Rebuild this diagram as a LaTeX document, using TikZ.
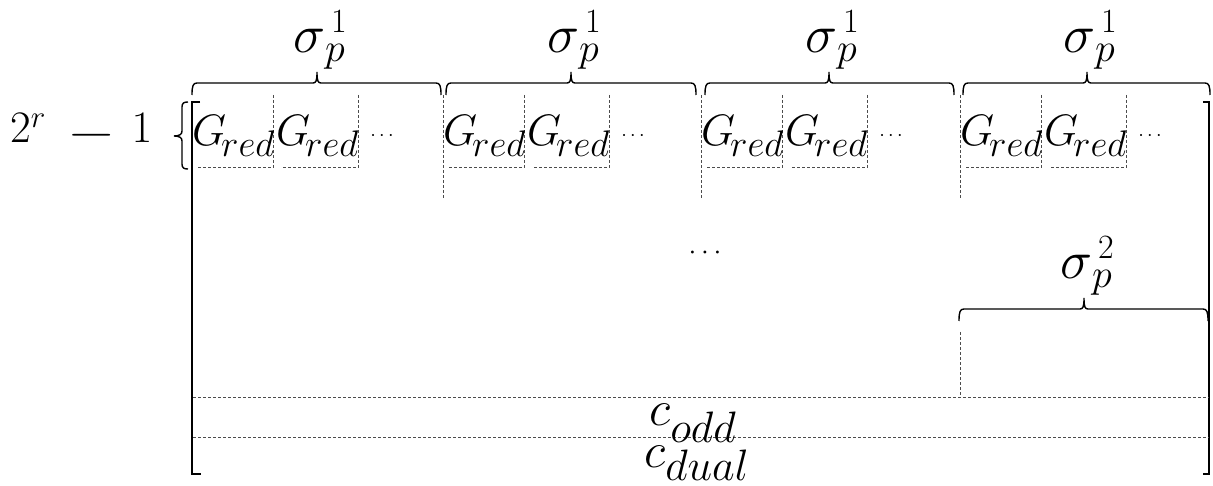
\RequirePackage{fix-cm}
\documentclass[tikz,border=0pt]{standalone}
\usepackage{graphicx}
\newcommand{\hbr}[4]{%
\draw[solidln] (#1,#4+12) .. controls (#1,#4+3) and (#1+1,#4) .. (#1+5,#4) -- (#3-4,#4) .. controls (#3-1,#4) and (#3,#4-2) .. (#3,#4-11) .. controls (#3,#4-2) and (#3+1,#4) .. (#3+4,#4) -- (#2-5,#4) .. controls (#2-1,#4) and (#2,#4+3) .. (#2,#4+12);}
\newcommand{\lsub}[3]{\raisebox{#1}{\fontsize{#2}{#2}\selectfont$#3$}}
\newcommand{\Gred}{$G$\kern-5pt\lsub{-11pt}{37}{red}}
\newcommand{\sigp}[1]{$\sigma$\rlap{\lsub{-9pt}{40}{p}}\hspace{6pt}\lsub{20pt}{34}{#1}}
\tikzset{
  x=1pt,y=-1pt,
  solidln/.style={line width=1.4pt,black},
  dashln/.style={line width=1pt,black!70,dash pattern=on 3pt off 2pt},
  gtxt/.style={inner sep=0pt,anchor=base west,font=\fontsize{44}{52}\selectfont},
  ctxt/.style={inner sep=0pt,anchor=base west,font=\fontsize{50}{60}\selectfont},
  sigtxt/.style={inner sep=0pt,anchor=base west,font=\fontsize{54}{62}\selectfont},
  dotstxt/.style={inner sep=0pt,font=\fontsize{20}{24}\selectfont},
}
\begin{document}
\begin{tikzpicture}
\useasboundingbox (0,0) rectangle (1213,486);
% left label and brace
\node[inner sep=0pt,anchor=base west,font=\fontsize{45}{52}\selectfont] (lbl) at (10,143)
  {$2$\lsub{15pt}{31}{r}\hspace{22pt}\raisebox{-4pt}{\scalebox{1.38}[1]{$-$}}\hspace{16pt}$1$};
\draw[solidln] (188,102) .. controls (184,102) and (182,103) .. (182,107) -- (182,131) .. controls (182,134) and (180,136) .. (174,136) .. controls (180,136) and (182,138) .. (182,141) -- (182,164) .. controls (182,168) and (184,169) .. (188,169);
% main bracket
\draw[solidln] (200,102) -- (192,102) -- (192,474) -- (201,474);
\draw[solidln] (1203,102) -- (1209,102) -- (1209,474) -- (1203,474);
% column separators
\foreach \s in {443,701,960} \draw[dashln] (\s,95) -- (\s,198);
% G boxes, texts and dots
\foreach \s/\n in {192/1,443/2,701/3,960/4}{
  \draw[dashln] (\s+81,95) -- (\s+81,168) (\s+166,95) -- (\s+166,168);
  \draw[dashln] (\s+6,168) -- (\s+81,168) (\s+91,168) -- (\s+166,168);
  \node[gtxt] (ga\n) at (\s+0,146) {\Gred};
  \node[gtxt] (gb\n) at (\s+84,146) {\Gred};
  \node[dotstxt] (d\n) at (\s+190,136) {$\cdots$};
}
% top braces and sigma labels
\hbr{192}{441}{317}{83}
\hbr{446}{696}{571}{83}
\hbr{705}{954}{829}{83}
\hbr{963}{1210}{1087}{83}
\foreach \m/\n in {317/1,571/2,829/3,1087/4}
  \node[sigtxt] (s\n) at (\m-24,53) {\sigp{1}};
% middle dots
\node[inner sep=0pt,font=\fontsize{28}{32}\selectfont] (mid) at (705,253) {$\cdots$};
% sigma 2
\hbr{959}{1208}{1084}{309}
\node[sigtxt] (s5) at (1084-24,279) {\sigp{2}};
\draw[dashln] (960,332) -- (960,397);
% horizontal separators
\draw[dashln] (193,397) -- (1209,397);
\draw[dashln] (193,437) -- (1209,437);
\node[ctxt] (codd) at (649,425) {$c$\lsub{-17pt}{44}{odd}};
\node[ctxt] (cdual) at (644,467) {$c$\lsub{-13pt}{44}{dual}};
\end{tikzpicture}
\end{document}
